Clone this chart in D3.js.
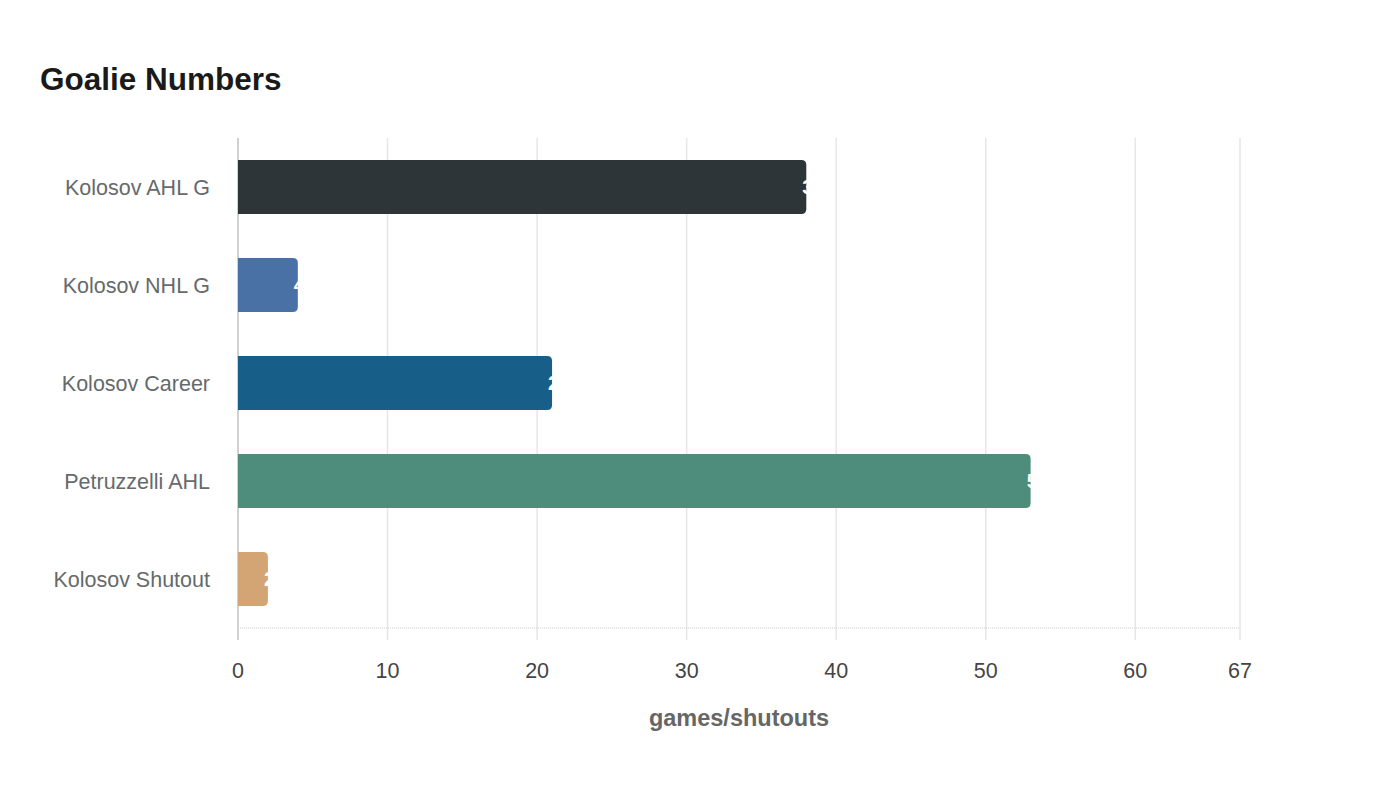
<!DOCTYPE html>
<html>
<head>
<meta charset="utf-8">
<script src="https://cdn.jsdelivr.net/npm/d3@7"></script>
<style>
  body { margin: 0; background: #fff; }
  svg text { font-family: "Liberation Sans", Arial, sans-serif; }
</style>
</head>
<body>
<svg id="chart" width="1400" height="800"></svg>
<script>
// Data
const categories = ["Kolosov AHL G", "Kolosov NHL G", "Kolosov Career", "Petruzzelli AHL", "Kolosov Shutout"];
const values = [38, 4, 21, 53, 2];
const barColors = ["#2e3538", "#4a71a6", "#175f88", "#4e8c7b", "#d4a574"];
const tickValues = [0, 10, 20, 30, 40, 50, 60, 67];
const xMax = 67;

const width = 1400;
const height = 800;
const margin = { top: 138, right: 160, bottom: 172, left: 238 };
const innerW = width - margin.left - margin.right;
const innerH = height - margin.top - margin.bottom;

const svg = d3.select("#chart");

// Title
svg.append("text")
    .attr("x", 40)
    .attr("y", 90)
    .attr("font-size", 31.5)
    .attr("font-weight", "bold")
    .attr("fill", "#1a1a1a")
    .text("Goalie Numbers");

const g = svg.append("g").attr("transform", `translate(${margin.left},${margin.top})`);

const x = d3.scaleLinear().domain([0, xMax]).range([0, innerW]);
const y = d3.scaleBand().domain(categories).range([0, innerH]).paddingInner(0.45).paddingOuter(0.225);

// Vertical grid lines
g.selectAll(".grid")
    .data(tickValues)
    .enter().append("line")
    .attr("x1", d => x(d))
    .attr("x2", d => x(d))
    .attr("y1", 0)
    .attr("y2", innerH + 12)
    .attr("stroke", "#e6e6e6")
    .attr("stroke-width", 1.5);

// Bottom baseline (dotted)
g.append("line")
    .attr("x1", 0).attr("x2", innerW)
    .attr("y1", innerH).attr("y2", innerH)
    .attr("stroke", "#cccccc")
    .attr("stroke-width", 1)
    .attr("stroke-dasharray", "1,1");

// Left axis line
g.append("line")
    .attr("x1", 0).attr("x2", 0)
    .attr("y1", 0).attr("y2", innerH + 12)
    .attr("stroke", "#d0d0d0")
    .attr("stroke-width", 2);

// Bars with rounded right end
const r = 5;
function barPath(d, i) {
    const w = x(d);
    const y0 = y(categories[i]);
    const h = y.bandwidth();
    const rr = Math.min(r, w);
    return `M0,${y0}H${w - rr}Q${w},${y0} ${w},${y0 + rr}V${y0 + h - rr}Q${w},${y0 + h} ${w - rr},${y0 + h}H0Z`;
}

g.selectAll(".bar")
    .data(values)
    .enter().append("path")
    .attr("d", barPath)
    .attr("fill", (d, i) => barColors[i]);

// Value labels (white, mostly running off the bar end)
g.selectAll(".val")
    .data(values)
    .enter().append("text")
    .attr("x", d => x(d) - 4)
    .attr("y", (d, i) => y(categories[i]) + y.bandwidth() / 2)
    .attr("dy", "0.36em")
    .attr("font-size", 20)
    .attr("font-weight", "bold")
    .attr("fill", "#ffffff")
    .text(d => d);

// Category labels
g.selectAll(".cat")
    .data(categories)
    .enter().append("text")
    .attr("x", -28)
    .attr("y", d => y(d) + y.bandwidth() / 2)
    .attr("dy", "0.36em")
    .attr("text-anchor", "end")
    .attr("font-size", 21.5)
    .attr("fill", "#666a6a")
    .text(d => d);

// Tick labels
g.selectAll(".tick-label")
    .data(tickValues)
    .enter().append("text")
    .attr("x", d => x(d))
    .attr("y", innerH + 50)
    .attr("text-anchor", "middle")
    .attr("font-size", 21.5)
    .attr("fill", "#444444")
    .text(d => d);

// Axis title
g.append("text")
    .attr("x", innerW / 2)
    .attr("y", innerH + 98)
    .attr("text-anchor", "middle")
    .attr("font-size", 23.5)
    .attr("font-weight", "bold")
    .attr("fill", "#666666")
    .text("games/shutouts");
</script>
</body>
</html>
